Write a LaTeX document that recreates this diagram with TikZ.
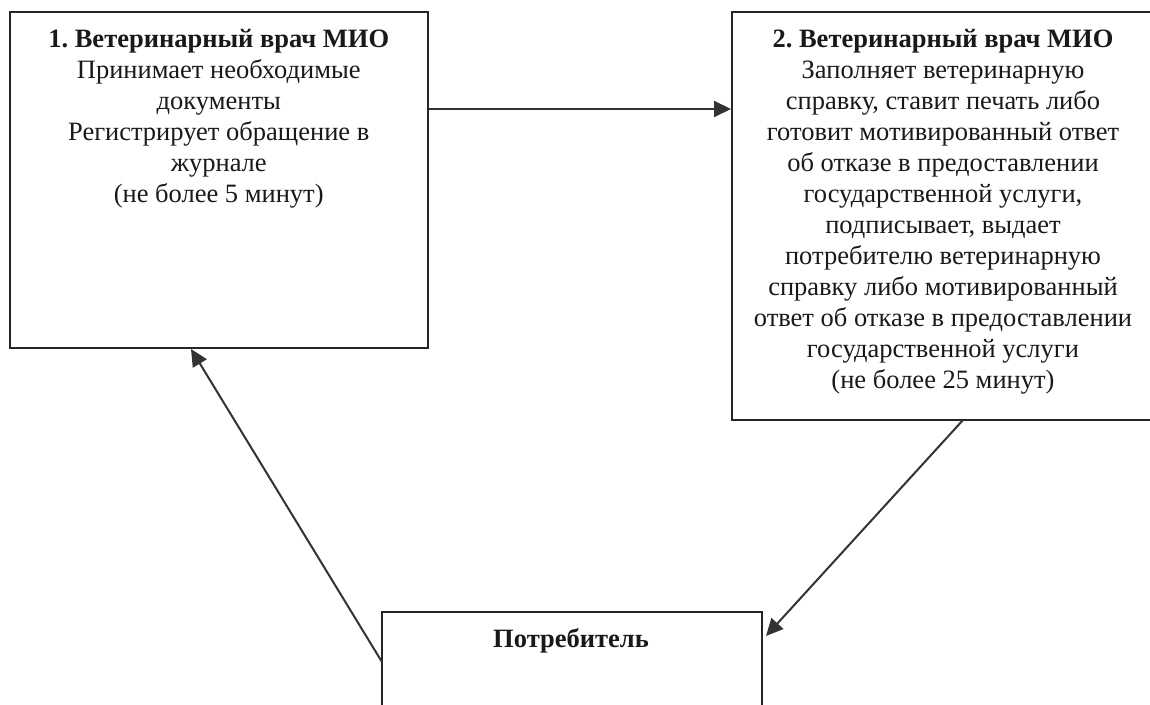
\documentclass[tikz,border=0pt]{standalone}
\usepackage{fontspec}
\setmainfont{Liberation Serif}
\frenchspacing
\usetikzlibrary{arrows.meta,calc}
\tikzset{
  box/.style={draw=black!85, line width=2pt, rectangle, inner sep=0pt},
  txt/.style={align=center, inner sep=0pt, font=\fontsize{26.5}{31}\selectfont, text=black!90},
  conn/.style={draw=black!80, line width=2pt, -{Triangle[length=17pt,width=16pt]}},
}
\begin{document}
\begin{tikzpicture}[x=1pt,y=-1pt]
\clip (0,0) rectangle (1150,704);
\fill[white] (0,0) rectangle (1150,704);
% boxes
\node[box, minimum width=418.5pt, minimum height=336pt] (b1) at (218.75,180) {};
\node[box, minimum width=422pt, minimum height=408pt] (b2) at (943,216) {};
\node[box, minimum width=380pt, minimum height=120pt] (b3) at (572,672) {};
% texts (base anchor = baseline of the last line)
\node[txt, anchor=base] (t1) at (218.75,202) {\textbf{1. Ветеринарный врач МИО}\\
Принимает необходимые\\
документы\\
Регистрирует обращение в\\
журнале\\
(не более 5 минут)};
\node[txt, anchor=base] (t2) at (943,388) {\textbf{2. Ветеринарный врач МИО}\\
Заполняет ветеринарную\\
справку, ставит печать либо\\
готовит мотивированный ответ\\
об отказе в предоставлении\\
государственной услуги,\\
подписывает, выдает\\
потребителю ветеринарную\\
справку либо мотивированный\\
ответ об отказе в предоставлении\\
государственной услуги\\
(не более 25 минут)};
\node[txt, anchor=base] (t3) at (571,647) {\textbf{Потребитель}};
% connectors
\coordinate (b1r) at (b1.east |- 0,109);
\coordinate (b2l) at (b2.west |- 0,109);
\draw[conn] (b1r) -- (b2l);
\coordinate (b2b) at (963,420);
\coordinate (b3r) at (766,636);
\draw[conn] (b2b) -- (b3r);
\coordinate (b3l) at (382,662);
\coordinate (b1b) at (191,349);
\draw[conn] (b3l) -- (b1b);
\end{tikzpicture}
\end{document}
